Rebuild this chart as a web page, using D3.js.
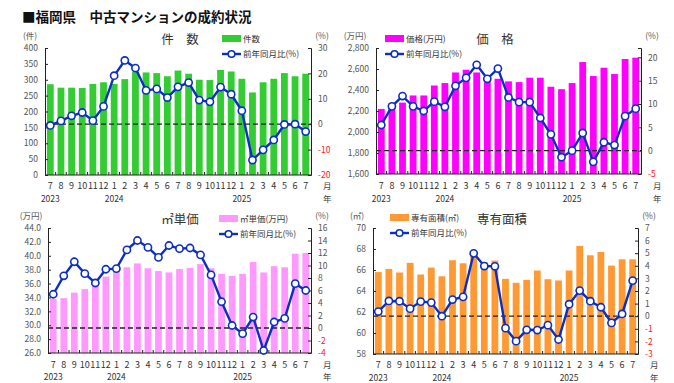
<!DOCTYPE html>
<html><head><meta charset="utf-8">
<script src="https://cdn.jsdelivr.net/npm/d3@7"></script>
<style>
body{margin:0;background:#fff;}
text{font-family:"Noto Sans CJK JP","Noto Sans",sans-serif;}
</style></head>
<body><svg id="c" width="674" height="383"></svg>
<script>
const months = ["7","8","9","10","11","12","1","2","3","4","5","6","7","8","9","10","11","12","1","2","3","4","5","6","7"];
const years = [{i:0,label:"2023"},{i:6,label:"2024"},{i:18,label:"2025"}];

const countBars = [286,275,275,274,287,292,287,302,324,323,321,311,329,319,300,299,331,326,303,260,292,303,321,311,319];
const countYoY  = [-0.5,1.3,3.3,4.6,1.4,7.0,19.1,25.1,22.1,13.3,13.9,10.5,14.7,16.4,9.5,8.8,14.6,11.8,5.3,-14.1,-10.1,-6.2,-0.1,0.0,-2.9];

const priceBars = [2220,2275,2280,2348,2348,2443,2466,2567,2593,2567,2526,2507,2482,2475,2517,2517,2431,2408,2466,2666,2533,2612,2552,2695,2708];
const priceYoY  = [5.5,9.5,11.7,9.5,8.5,10.5,9.4,13.9,15.6,18.4,15.4,17.6,11.4,10.4,10.4,7.0,3.5,-1.4,0.0,3.8,-2.4,1.8,1.2,7.4,9.0];

const unitBars = [33.8,33.9,34.7,35.2,35.9,37.0,37.8,38.35,38.9,38.2,37.8,37.6,38.1,38.25,38.8,38.2,37.4,37.1,37.4,39.1,37.6,38.5,38.35,40.3,40.4];
const unitYoY  = [5.4,8.35,10.6,8.7,7.2,9.4,9.5,12.5,14.0,12.9,11.3,13.2,12.7,12.8,11.7,8.5,4.2,0.4,-0.9,1.75,-3.6,0.96,1.54,7.1,6.0];

const areaBars = [65.8,66.1,65.76,66.68,65.57,66.23,65.4,66.93,66.64,67.4,66.77,66.9,65.16,64.78,65.06,65.95,65.12,65.0,65.95,68.3,67.4,67.72,66.42,67.02,67.02];
const areaYoY  = [0.37,1.21,1.19,0.6,1.16,1.08,0.0,1.32,1.53,4.99,3.98,3.96,-0.95,-1.98,-1.08,-1.1,-0.71,-1.85,0.95,2.03,1.19,0.71,-0.53,0.18,2.82];

const svg = d3.select("#c");
const LINE = "#0b2fc4";

svg.append("text").attr("x",22).attr("y",22).attr("font-size",13.5).attr("font-weight","bold")
  .attr("fill","#111").text("■福岡県　中古マンションの成約状況");

function panel(o){
  const g = svg.append("g");
  const x = d3.scaleBand().domain(d3.range(months.length)).range([o.x0,o.x1]).paddingInner(0.36).paddingOuter(0.18);
  const yL = d3.scaleLinear().domain(o.left).range([o.y1,o.y0]);
  const yR = d3.scaleLinear().domain(o.right).range([o.y1,o.y0]);
  g.selectAll("rect.bar").data(o.bars).join("rect").attr("class","bar")
    .attr("x",(d,i)=>x(i)).attr("width",x.bandwidth())
    .attr("y",d=>yL(d)).attr("height",d=>o.y1-yL(d)).attr("fill",o.color);
  g.append("line").attr("x1",o.x0).attr("x2",o.x1).attr("y1",yR(0)).attr("y2",yR(0))
    .attr("stroke","#222").attr("stroke-width",1.3).attr("stroke-dasharray","5,3");
  const la = g.append("g").attr("transform",`translate(${o.x0},0)`)
    .call(d3.axisLeft(yL).tickValues(o.leftTicks).tickSize(-3).tickPadding(7).tickFormat(o.leftFmt));
  la.select(".domain").attr("stroke","#222");
  la.selectAll("line").attr("stroke","#222");
  la.selectAll("text").attr("font-size",8.5).attr("fill","#555").attr("font-family","Liberation Sans, Arial, sans-serif");
  const ra = g.append("g").attr("transform",`translate(${o.x1},0)`)
    .call(d3.axisRight(yR).tickValues(o.rightTicks).tickSize(-3).tickPadding(7));
  ra.select(".domain").attr("stroke","#222");
  ra.selectAll("line").attr("stroke","#222");
  ra.selectAll("text").attr("font-size",8.5).attr("font-family","Liberation Sans, Arial, sans-serif")
    .attr("fill",d=>d<0?"#ff2020":"#555").text(d=>d<0?"-"+Math.abs(d):d);
  g.append("line").attr("x1",o.x0).attr("x2",o.x1).attr("y1",o.y1).attr("y2",o.y1).attr("stroke","#222").attr("stroke-width",1.2);
  const step = x.step();
  g.selectAll("line.xt").data(d3.range(1,months.length)).join("line").attr("class","xt")
    .attr("x1",i=>x(i)-step*x.paddingInner()/2).attr("x2",i=>x(i)-step*x.paddingInner()/2)
    .attr("y1",o.y1).attr("y2",o.y1-3).attr("stroke","#222");
  g.selectAll("text.m").data(months).join("text").attr("class","m")
    .attr("x",(d,i)=>x(i)+x.bandwidth()/2).attr("y",o.y1+o.monDy).attr("text-anchor","middle")
    .attr("font-size",9).attr("fill","#333").attr("font-family","Liberation Sans, Arial, sans-serif").text(d=>d);
  g.selectAll("text.yr").data(years).join("text").attr("class","yr")
    .attr("x",d=>x(d.i)+x.bandwidth()/2).attr("y",o.y1+o.yearDy).attr("text-anchor","middle")
    .attr("font-size",8.5).attr("fill","#333").attr("font-family","Liberation Sans, Arial, sans-serif").text(d=>d.label);
  g.append("text").attr("x",o.x1+12).attr("y",o.y1+o.monDy).attr("font-size",8.5).attr("fill","#444").text("月");
  g.append("text").attr("x",o.x1+12).attr("y",o.y1+o.yearDy).attr("font-size",8.5).attr("fill","#444").text("年");
  const line = d3.line().x((d,i)=>x(i)+x.bandwidth()/2).y(d=>yR(d));
  g.append("path").datum(o.yoy).attr("d",line).attr("fill","none").attr("stroke",LINE).attr("stroke-width",2.4);
  g.selectAll("circle.p").data(o.yoy).join("circle").attr("class","p")
    .attr("cx",(d,i)=>x(i)+x.bandwidth()/2).attr("cy",d=>yR(d)).attr("r",3.6)
    .attr("fill","#fff").attr("stroke",LINE).attr("stroke-width",1.6);
  g.append("text").attr("x",o.unitLX).attr("y",o.y0-9).attr("text-anchor","middle").attr("font-size",8.5).attr("fill","#555").text(o.unitL);
  g.append("text").attr("x",o.x1+11).attr("y",o.y0-9).attr("text-anchor","middle").attr("font-size",8.5).attr("fill","#555").text("(%)");
  g.append("text").attr("x",o.titleX).attr("y",o.y0-4).attr("text-anchor","middle").attr("font-size",12.5).attr("fill","#333").text(o.title);
  g.append("rect").attr("x",o.legX).attr("y",o.legY-4).attr("width",19).attr("height",7).attr("fill",o.color);
  g.append("text").attr("x",o.legX+21).attr("y",o.legY+3).attr("font-size",8.5).attr("fill","#333").text(o.legBar);
  g.append("line").attr("x1",o.legX).attr("x2",o.legX+19).attr("y1",o.legY+15).attr("y2",o.legY+15).attr("stroke",LINE).attr("stroke-width",2.4);
  g.append("circle").attr("cx",o.legX+9.5).attr("cy",o.legY+15).attr("r",3.3).attr("fill","#fff").attr("stroke",LINE).attr("stroke-width",1.6);
  g.append("text").attr("x",o.legX+21).attr("y",o.legY+18).attr("font-size",8.5).attr("fill","#333").text("前年同月比(%)");
}

panel({x0:45,x1:311,y0:48,y1:175,bars:countBars,yoy:countYoY,color:"#33cc33",
  left:[0,400],leftTicks:d3.range(0,401,50),leftFmt:d3.format("d"),
  right:[-20,30],rightTicks:d3.range(-20,31,10),
  title:"件　数",titleX:180,legX:222,legY:39,legBar:"件数",unitL:"(件)",unitLX:30,monDy:14,yearDy:27});

panel({x0:376,x1:641,y0:48,y1:174,bars:priceBars,yoy:priceYoY,color:"#ff00ff",
  left:[1600,2800],leftTicks:d3.range(1600,2801,200),leftFmt:d3.format(","),
  right:[-5,22],rightTicks:d3.range(-5,21,5),
  title:"価　格",titleX:495,legX:385,legY:39,legBar:"価格(万円)",unitL:"(万円)",unitLX:355,monDy:15,yearDy:28});

panel({x0:48,x1:311,y0:228,y1:353,bars:unitBars,yoy:unitYoY,color:"#ff99ff",
  left:[26,44],leftTicks:d3.range(26,44.1,2),leftFmt:d3.format(".1f"),
  right:[-4,16],rightTicks:d3.range(-4,17,2),
  title:"㎡単価",titleX:180,legX:219,legY:219,legBar:"㎡単価(万円)",unitL:"(万円)",unitLX:31,monDy:15,yearDy:27});

panel({x0:373,x1:638,y0:228,y1:354,bars:areaBars,yoy:areaYoY,color:"#ff9933",
  left:[58,70],leftTicks:d3.range(58,70.1,2),leftFmt:d3.format("d"),
  right:[-3,7],rightTicks:d3.range(-3,8,1),
  title:"専有面積",titleX:502,legX:390,legY:218,legBar:"専有面積(㎡)",unitL:"(㎡)",unitLX:357,monDy:14,yearDy:27});
</script></body></html>
